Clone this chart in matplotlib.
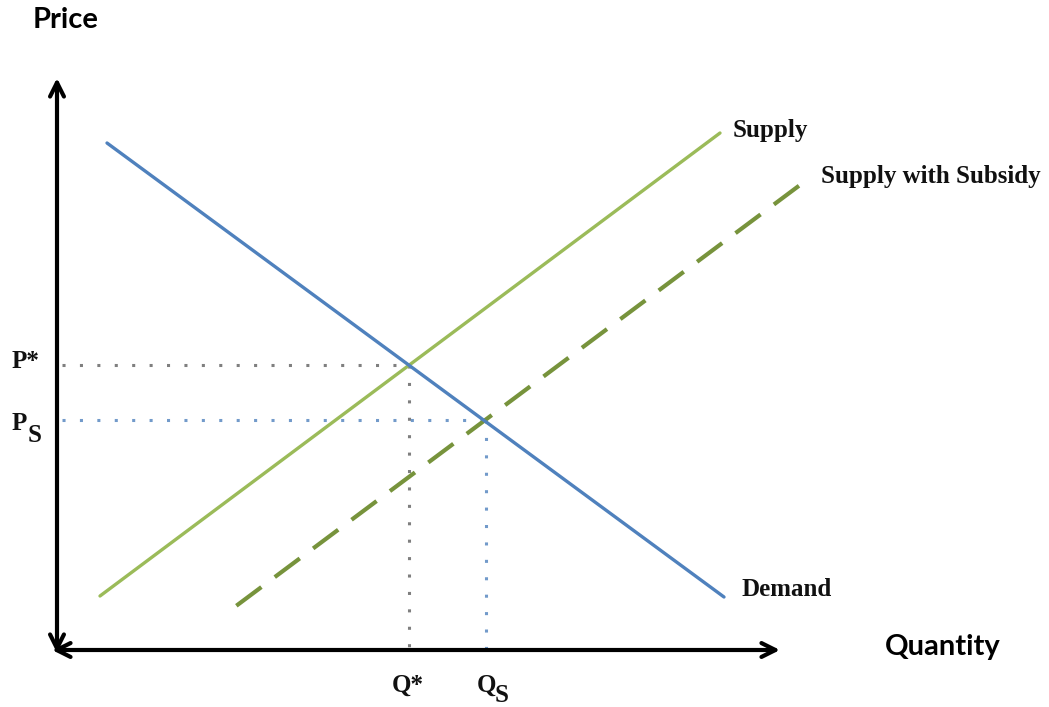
import matplotlib.pyplot as plt

# coordinates: quantity to the right, price upward (origin at axis corner)
demand_q = [50, 667]
demand_p = [507, 53]
supply_q = [43, 663]
supply_p = [54, 517]
subsidy_q = [171, 743]
subsidy_p = [38, 465]

q_star, p_star = 352, 285
q_s, p_s = 429, 230

q_max, p_max = 723, 572

fig = plt.figure(figsize=(10.49, 7.07), dpi=100)
ax = fig.add_axes([0, 0, 1, 1])
ax.set_xlim(-57, 992)
ax.set_ylim(-57, 650)
ax.axis('off')

blue = '#4F81BD'
green = '#9BBB59'
dkgreen = '#77933C'
grey = '#7F7F7F'

# axes with arrows
ax.annotate('', xy=(0, p_max), xytext=(0, -3),
            arrowprops=dict(arrowstyle='<->', lw=3, color='black', mutation_scale=25,
                            shrinkA=0, shrinkB=0))
ax.annotate('', xy=(q_max, 0), xytext=(-5, 0),
            arrowprops=dict(arrowstyle='<->', lw=3, color='black', mutation_scale=25,
                            shrinkA=0, shrinkB=0))

# dotted guide lines
ax.plot([5, q_star], [p_star, p_star], color=grey, lw=2.2, linestyle=(0, (1, 4.7)))
ax.plot([q_star, q_star], [p_star, 2], color=grey, lw=2.2, linestyle=(0, (1, 4.7)))
ax.plot([5, q_s], [p_s, p_s], color=blue, lw=2.2, linestyle=(0, (1, 4.7)), alpha=0.8)
ax.plot([q_s, q_s], [p_s, 2], color=blue, lw=2.2, linestyle=(0, (1, 4.7)), alpha=0.8)

# curves
ax.plot(supply_q, supply_p, color=green, lw=2.4, solid_capstyle='round')
ax.plot(subsidy_q, subsidy_p, color=dkgreen, lw=3, linestyle=(9, (7.5, 4)))
ax.plot(demand_q, demand_p, color=blue, lw=2.4, solid_capstyle='round')

serif = dict(family='Liberation Serif', fontweight='bold', fontsize=18, color='#111111')
sans = dict(family='Lato', fontweight='bold', fontsize=21, color='black')

ax.text(-24, 630, 'Price', ha='left', va='center', **sans)
ax.text(828, 3, 'Quantity', ha='left', va='center', **sans)

ax.text(676, 519, 'Supply', ha='left', va='center', **serif)
ax.text(764, 473, 'Supply with Subsidy', ha='left', va='center', **serif)
ax.text(684, 60, 'Demand', ha='left', va='center', **serif)

ax.text(-45, 288, 'P*', ha='left', va='center', **serif)
ax.text(-45, 227, 'P', ha='left', va='center', **serif)
ax.text(-29, 214, 'S', ha='left', va='center', **serif)
ax.text(q_star - 1, -35, 'Q*', ha='center', va='center', **serif)
ax.text(420, -35, 'Q', ha='left', va='center', **serif)
ax.text(438, -45, 'S', ha='left', va='center', **serif)

fig.savefig('out.png', dpi=100, facecolor='white')
